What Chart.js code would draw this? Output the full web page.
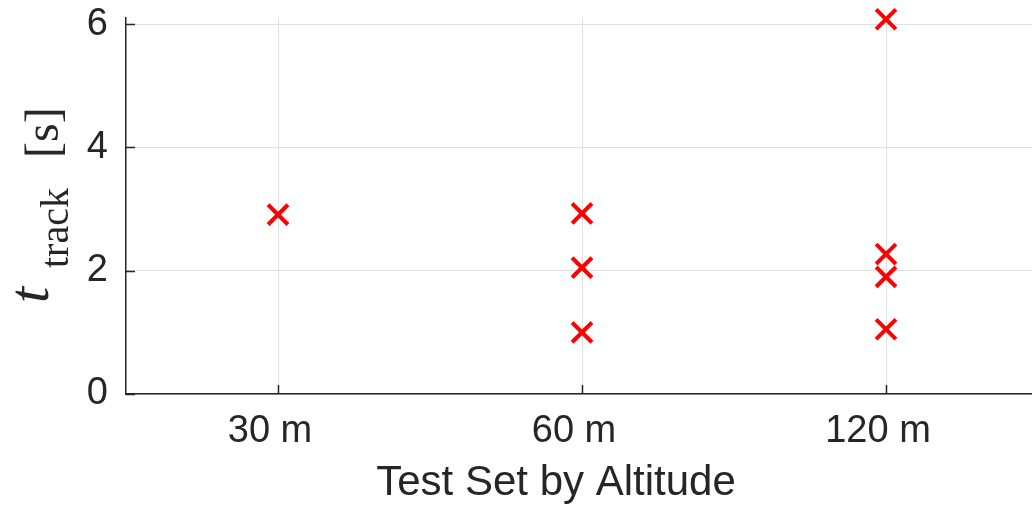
<!DOCTYPE html>
<html>
<head>
<meta charset="utf-8">
<script src="https://cdn.jsdelivr.net/npm/chart.js@4.4.0/dist/chart.umd.min.js"></script>
<style>
  html, body { margin: 0; padding: 0; overflow: hidden; background: #fff; }
  canvas { display: block; }
</style>
</head>
<body>
<canvas id="chart" width="1040" height="510"></canvas>
<script>
// categories and measured values (seconds)
var altitudes = ['30 m', '60 m', '120 m'];
var trackAlt = ['30 m', '60 m', '60 m', '60 m', '120 m', '120 m', '120 m', '120 m'];
var trackTime = [2.91, 2.93, 2.05, 1.0, 6.08, 2.27, 1.9, 1.05];
var yTicks = [0, 2, 4, 6];
var xTitle = 'Test Set by Altitude';
var yTitleMain = 't', yTitleSub = 'track', yTitleUnit = '[s]';

var ink = '#262626';
var gridCol = '#e0e0e0';

var points = [];
for (var i = 0; i < trackTime.length; i++) {
    points.push({ x: trackAlt[i], y: trackTime[i] });
}

// inside tick marks, axis titles
var extras = {
    id: 'extras',
    afterDatasetsDraw: function (chart) {
        var ctx = chart.ctx, area = chart.chartArea;
        var xs = chart.scales.x, ys = chart.scales.y;
        ctx.save();
        ctx.strokeStyle = ink;
        ctx.lineWidth = 1.5;
        ctx.beginPath();
        yTicks.forEach(function (v) {
            var p = Math.round(ys.getPixelForValue(v)) + 0.5;
            ctx.moveTo(area.left, p);
            ctx.lineTo(area.left + 9, p);
        });
        altitudes.forEach(function (a, idx) {
            var p = Math.round(xs.getPixelForValue(idx)) + 0.5;
            ctx.moveTo(p, area.bottom);
            ctx.lineTo(p, area.bottom - 9);
        });
        ctx.stroke();
        ctx.restore();
    },
    afterDraw: function (chart) {
        var ctx = chart.ctx;
        ctx.save();
        ctx.fillStyle = ink;
        ctx.textBaseline = 'alphabetic';
        // x title (centred like the original figure, a bit left of the plot middle)
        ctx.textAlign = 'center';
        ctx.font = '42px "Liberation Sans", Arial, sans-serif';
        ctx.fillText(xTitle, 556, 495);
        // y title  t_track [s]
        ctx.textAlign = 'left';
        ctx.rotate(-Math.PI / 2);
        ctx.font = 'italic 58px "Liberation Serif"';
        ctx.fillText(yTitleMain, -303, 48);
        ctx.font = '40px "Liberation Serif"';
        ctx.fillText(yTitleSub, -268, 68);
        ctx.font = '48px "Liberation Serif"';
        ctx.fillText(yTitleUnit, -158, 58);
        ctx.restore();
    }
};

new Chart(document.getElementById('chart'), {
    type: 'scatter',
    data: {
        labels: altitudes,
        datasets: [{
            data: points,
            pointStyle: 'crossRot',
            pointRadius: 14,
            pointBorderWidth: 4,
            borderColor: '#ff0000',
            backgroundColor: '#ff0000',
            clip: false
        }]
    },
    options: {
        responsive: false,
        animation: false,
        events: [],
        layout: { autoPadding: false, padding: { left: 0, top: 18, right: 2, bottom: 0 } },
        plugins: { legend: { display: false }, tooltip: { enabled: false } },
        scales: {
            x: {
                type: 'category',
                labels: altitudes,
                offset: true,
                afterFit: function (s) {
                    s.height = 116;
                    s.paddingLeft = 0;
                    s.paddingRight = 0;
                },
                grid: { color: gridCol, lineWidth: 1, drawTicks: false, offset: false },
                border: { display: true, color: ink, width: 1.5 },
                ticks: {
                    color: ink,
                    padding: 15,
                    labelOffset: -8,
                    font: { family: '"Liberation Sans", Arial, sans-serif', size: 38 }
                }
            },
            y: {
                min: 0,
                max: 6.1,
                afterFit: function (s) {
                    s.width = 126;
                    s.paddingTop = 0;
                    s.paddingBottom = 0;
                },
                afterBuildTicks: function (s) {
                    s.ticks = yTicks.map(function (v) { return { value: v }; });
                },
                grid: { color: gridCol, lineWidth: 1, drawTicks: false },
                border: { display: true, color: ink, width: 1.5 },
                ticks: {
                    color: ink,
                    padding: 18,
                    includeBounds: false,
                    font: { family: '"Liberation Sans", Arial, sans-serif', size: 38 }
                }
            }
        }
    },
    plugins: [extras]
});
</script>
</body>
</html>
